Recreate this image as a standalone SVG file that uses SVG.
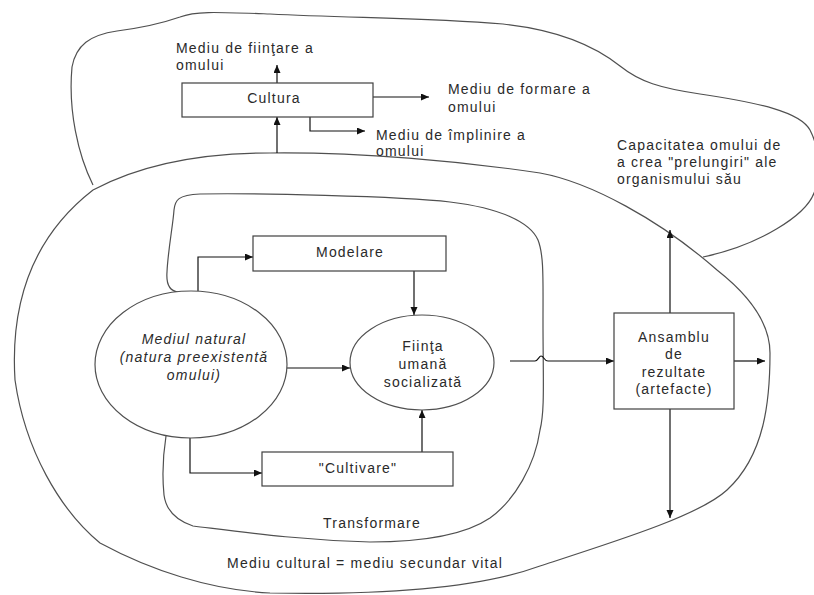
<svg xmlns="http://www.w3.org/2000/svg" width="814" height="595" viewBox="0 0 814 595">
<style>
.blob{fill:none;stroke:#505050;stroke-width:1.2}
.box{fill:#fff;stroke:#404040;stroke-width:1.2}
.ell{fill:#fff;stroke:#505050;stroke-width:1.2}
.con{fill:none;stroke:#111;stroke-width:1.2}
text{font-family:"Liberation Sans",Arial,sans-serif;font-size:14px;fill:#2a2a2a;letter-spacing:1.2px}
.c{text-anchor:middle}
.i{font-style:italic}
</style>
<defs>
<marker id="ah" markerUnits="userSpaceOnUse" markerWidth="9" markerHeight="8" refX="8" refY="3.5" orient="auto">
<path d="M0,0 L8,3.5 L0,7 z" fill="#111"/>
</marker>
</defs>
<rect width="814" height="595" fill="#fff"/>
<g id="regions">
<path id="top-blob" class="blob" d="M93,185 C78,155 68,110 72,67 C76,45 90,35 117,31 C140,28 160,24 180,17 C195,11 215,12 270,14 C350,18 430,18 503,24 C550,29 590,42 620,66 C640,82 660,88 700,94 C760,103 800,112 810,130 C820,150 822,175 814,193 C806,215 760,245 703,257"/>
<path id="big-blob" class="blob" d="M15,380 C10,300 35,235 93,190 C140,165 200,153 270,153 C360,152 460,161 540,173 C590,182 660,220 717,270 C745,292 770,320 770,353 C770,400 765,455 727,490 C700,515 620,540 540,566 C480,588 380,595 270,593 C210,590 150,570 100,543 C60,510 25,450 15,380 Z"/>
<path id="inner-blob" class="blob" d="M178,292 C170,291 166,285 167,272 C168,250 173,225 174,210 C175,200 178,195 200,194 C250,193 400,196 450,202 C500,208 530,222 538,240 C544,255 543,280 543,320 C543,380 545,410 540,430 C535,465 515,500 490,518 C465,535 420,542 370,542 C300,540 250,533 193,526 C175,520 166,510 164,495 C162,475 163,455 166,436"/>
</g>
<g id="connectors">
<path class="con" d="M277,83 V65" marker-end="url(#ah)"/>
<path class="con" d="M277,153 V117" marker-end="url(#ah)"/>
<path class="con" d="M373,97 H429" marker-end="url(#ah)"/>
<path class="con" d="M310,117 V131 H365" marker-end="url(#ah)"/>
<path class="con" d="M198,291 V257 H253" marker-end="url(#ah)"/>
<path class="con" d="M414,271 V315" marker-end="url(#ah)"/>
<path class="con" d="M287,368 H350" marker-end="url(#ah)"/>
<path class="con" d="M422,452 V410" marker-end="url(#ah)"/>
<path class="con" d="M190,438 V473 H262" marker-end="url(#ah)"/>
<path class="con" d="M510,361 H535 C538,361 539,356 541,356 C544,356 544,361 548,361 H614" marker-end="url(#ah)"/>
<path class="con" d="M734,361 H765" marker-end="url(#ah)"/>
<path class="con" d="M670,313 V230" marker-end="url(#ah)"/>
<path class="con" d="M670,409 V518" marker-end="url(#ah)"/>
</g>
<g id="cultura">
<rect class="box" x="182" y="83" width="191" height="34"/>
<text class="c" x="274" y="103">Cultura</text>
</g>
<g id="label-fiintare">
<text x="176" y="53">Mediu de fiinţare a</text>
<text x="176" y="70">omului</text>
</g>
<g id="label-formare">
<text x="448" y="94">Mediu de formare a</text>
<text x="448" y="112">omului</text>
</g>
<g id="label-implinire">
<text x="376" y="140">Mediu de împlinire a</text>
<text x="376" y="156">omului</text>
</g>
<g id="label-capacitatea">
<text x="617" y="150">Capacitatea omului de</text>
<text x="617" y="167">a crea "prelungiri"  ale</text>
<text x="617" y="184">organismului său</text>
</g>
<g id="modelare">
<rect class="box" x="253" y="236" width="193" height="35"/>
<text class="c" x="350" y="257">Modelare</text>
</g>
<g id="mediul-natural">
<ellipse class="ell" cx="191" cy="364.5" rx="96" ry="73.5"/>
<text class="c i" x="194" y="344">Mediul natural</text>
<text class="c i" x="194" y="362">(natura preexistentă</text>
<text class="c i" x="194" y="380">omului)</text>
</g>
<g id="fiinta">
<ellipse class="ell" cx="422" cy="362.5" rx="72" ry="47.5"/>
<text class="c" x="423" y="351">Fiinţa</text>
<text class="c" x="423" y="369">umană</text>
<text class="c" x="423" y="387">socializată</text>
</g>
<g id="cultivare">
<rect class="box" x="262" y="452" width="191" height="34"/>
<text class="c" x="358" y="473">"Cultivare"</text>
</g>
<g id="ansamblu">
<rect class="box" x="614" y="313" width="120" height="96"/>
<text class="c" x="674" y="342">Ansamblu</text>
<text class="c" x="674" y="359">de</text>
<text class="c" x="674" y="377">rezultate</text>
<text class="c" x="674" y="394">(artefacte)</text>
</g>
<g id="label-transformare">
<text class="c" x="372" y="528">Transformare</text>
</g>
<g id="label-mediu-cultural">
<text class="c" x="365" y="568">Mediu cultural = mediu secundar vital</text>
</g>
</svg>
